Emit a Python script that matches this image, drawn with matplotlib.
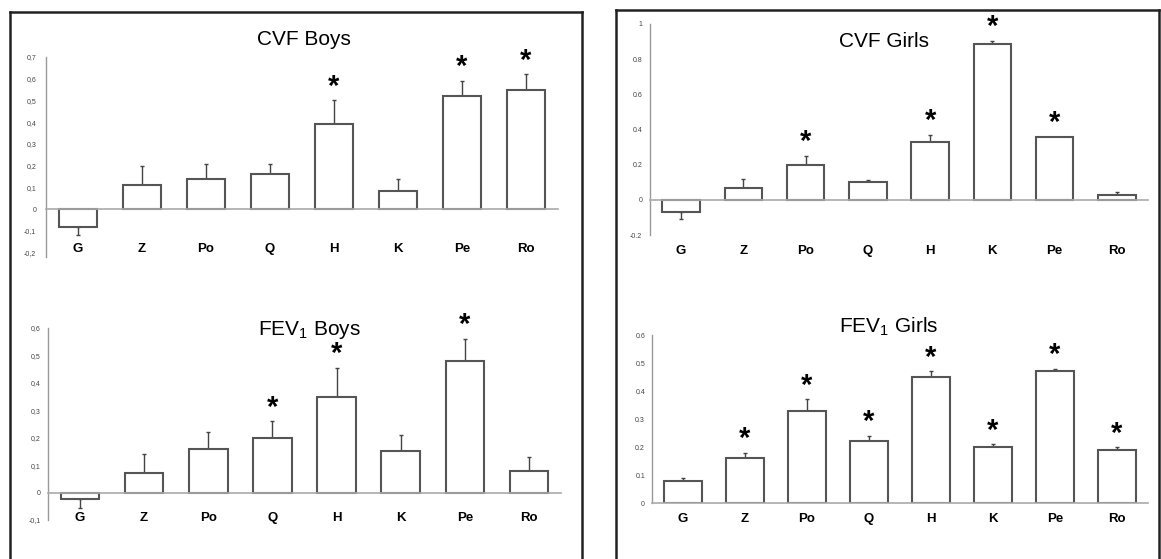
import numpy as np
import matplotlib.pyplot as plt
from matplotlib.lines import Line2D

plt.rcParams['font.family'] = ['Liberation Sans', 'DejaVu Sans']
plt.rcParams['mathtext.fontset'] = 'custom'
plt.rcParams['mathtext.rm'] = 'Liberation Sans'

W, H = 1161, 559

groups = ['G', 'Z', 'Po', 'Q', 'H', 'K', 'Pe', 'Ro']

# mean change and error (one-sided, away from zero)
cvf_boys = [-0.08, 0.11, 0.14, 0.16, 0.39, 0.085, 0.52, 0.55]
cvf_boys_err = [0.04, 0.09, 0.07, 0.05, 0.11, 0.055, 0.07, 0.07]
cvf_boys_sig = ['H', 'Pe', 'Ro']

fev_boys = [-0.025, 0.07, 0.16, 0.20, 0.35, 0.15, 0.48, 0.08]
fev_boys_err = [0.03, 0.07, 0.06, 0.06, 0.105, 0.06, 0.08, 0.05]
fev_boys_sig = ['Q', 'H', 'Pe']

cvf_girls = [-0.07, 0.07, 0.20, 0.10, 0.33, 0.885, 0.36, 0.03]
cvf_girls_err = [0.04, 0.05, 0.05, 0.01, 0.04, 0.02, 0.0, 0.015]
cvf_girls_sig = ['Po', 'H', 'K', 'Pe']

fev_girls = [0.08, 0.16, 0.33, 0.22, 0.45, 0.20, 0.47, 0.19]
fev_girls_err = [0.01, 0.02, 0.04, 0.02, 0.02, 0.01, 0.01, 0.01]
fev_girls_sig = ['Z', 'Po', 'Q', 'H', 'K', 'Pe', 'Ro']

ticks_cvf_boys = [-0.2, -0.1, 0, 0.1, 0.2, 0.3, 0.4, 0.5, 0.6, 0.7]
labels_cvf_boys = ['-0,2', '-0,1', '0', '0,1', '0,2', '0,3', '0,4', '0,5', '0,6', '0,7']
ticks_fev_boys = [-0.1, 0, 0.1, 0.2, 0.3, 0.4, 0.5, 0.6]
labels_fev_boys = ['-0,1', '0', '0,1', '0,2', '0,3', '0,4', '0,5', '0,6']
ticks_cvf_girls = [-0.2, 0, 0.2, 0.4, 0.6, 0.8, 1.0]
labels_cvf_girls = ['-0.2', '0', '0.2', '0.4', '0.6', '0.8', '1']
ticks_fev_girls = [0, 0.1, 0.2, 0.3, 0.4, 0.5, 0.6]
labels_fev_girls = ['0', '0.1', '0.2', '0.3', '0.4', '0.5', '0.6']

fig = plt.figure(figsize=(W / 100, H / 100), dpi=100)


def draw(box, ylim, vals, errs, sig, yticks, ylabels, title, title_pos, xpad, ypad):
    left, right, top, bottom = box
    ax = fig.add_axes([left / W, 1 - bottom / H, (right - left) / W, (bottom - top) / H])
    ax.patch.set_alpha(0)
    x = np.arange(len(groups))
    lower = [e if v < 0 else 0 for v, e in zip(vals, errs)]
    upper = [0 if v < 0 else e for v, e in zip(vals, errs)]
    ax.bar(x, vals, width=0.6, color='white', edgecolor='#555555', linewidth=1.5, zorder=2)
    ax.errorbar(x, vals, yerr=[lower, upper], fmt='none', ecolor='#444444',
                elinewidth=1, capsize=1.5, capthick=1, zorder=1)
    ax.axhline(0, color='#aaaaaa', lw=1.2, zorder=3, clip_on=False)
    ax.set_xlim(-0.5, 7.5)
    ax.set_ylim(*ylim)
    for s in ['top', 'right', 'bottom']:
        ax.spines[s].set_visible(False)
    ax.spines['left'].set_color('#999999')
    ax.spines['left'].set_linewidth(1)
    ax.set_yticks(yticks, ylabels)
    ax.tick_params(axis='y', length=0, pad=ypad, labelsize=5, labelcolor='#444444')
    ax.set_xticks(x, groups, fontweight='bold')
    ax.tick_params(axis='x', length=0, pad=xpad, labelsize=9.5)
    for g in sig:
        i = groups.index(g)
        ax.annotate('*', (i, vals[i] + upper[i]), xytext=(0, 4), textcoords='offset points',
                    ha='center', va='baseline', fontsize=21, fontweight='bold')
    fig.text(title_pos[0] / W, 1 - title_pos[1] / H, title, ha='center', va='baseline', fontsize=15)
    return ax


draw((46, 558, 57, 257), (-0.22, 0.7), cvf_boys, cvf_boys_err, cvf_boys_sig,
     ticks_cvf_boys, labels_cvf_boys, 'CVF Boys', (304, 45), -9.9, 7)
draw((48, 561, 328, 520), (-0.1, 0.6), fev_boys, fev_boys_err, fev_boys_sig,
     ticks_fev_boys, labels_fev_boys, 'FEV$_1$ Boys', (309, 335), -5.5, 5.5)
draw((650, 1148, 24, 235), (-0.2, 1.0), cvf_girls, cvf_girls_err, cvf_girls_sig,
     ticks_cvf_girls, labels_cvf_girls, 'CVF Girls', (884, 47), 7.4, 5.5)
draw((652, 1148, 335, 503), (0, 0.6), fev_girls, fev_girls_err, fev_girls_sig,
     ticks_fev_girls, labels_fev_girls, 'FEV$_1$ Girls', (889, 332), 7.4, 5)

# panel frames
for x0, x1, y0 in [(10, 582, 12), (616, 1159, 10)]:
    kw = dict(color='#222222', lw=1.8, transform=fig.transFigure)
    fig.add_artist(Line2D([x0 / W, x1 / W], [1 - y0 / H] * 2, **kw))
    fig.add_artist(Line2D([x0 / W] * 2, [1 - y0 / H, -0.05], **kw))
    fig.add_artist(Line2D([x1 / W] * 2, [1 - y0 / H, -0.05], **kw))

fig.savefig('out.png', dpi=100)
